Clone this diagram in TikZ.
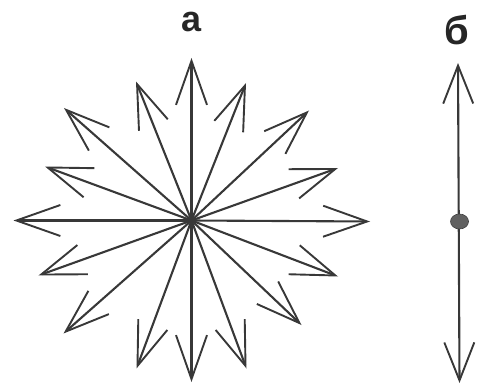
\documentclass[tikz,border=0pt]{standalone}
\usepackage{fontspec}
\setmainfont{Liberation Sans}
\usetikzlibrary{arrows.meta,shapes.geometric}
\begin{document}
\begin{tikzpicture}[x=1pt,y=-1pt,
  ray/.style={draw=black!78,line width=2.1pt,-{Straight Barb[length=44pt,width=31pt,line width=1.9pt]}},
  axis/.style={draw=black!78,line width=2.1pt,{Straight Barb[length=38pt,width=30pt,line width=1.9pt]}-{Straight Barb[length=38pt,width=30pt,line width=1.9pt]}},
  lbl/.style={font=\fontsize{36}{36}\selectfont\bfseries,text=black!85,inner sep=0pt}]
\useasboundingbox (0,0) rectangle (478,390);
\coordinate (c) at (191.5,220.5);
\coordinate (t1) at (191.5,58);
\coordinate (t2) at (246,83);
\coordinate (t3) at (309,110.5);
\coordinate (t4) at (338,168);
\coordinate (t5) at (370,221.5);
\coordinate (t6) at (338,276.5);
\coordinate (t7) at (301.5,325);
\coordinate (t8) at (246.5,368.5);
\coordinate (t9) at (191.5,382);
\coordinate (t10) at (136.5,368.5);
\coordinate (t11) at (63.5,333.5);
\coordinate (t12) at (38.5,275.5);
\coordinate (t13) at (13.5,220.5);
\coordinate (t14) at (45,166.5);
\coordinate (t15) at (64,108);
\coordinate (t16) at (136,81.5);
\foreach \i in {1,...,16} {\draw[ray] (c) -- (t\i);}
\node[lbl] (la) at (191.5,22) {а};
\coordinate (btop) at (458,63);
\coordinate (bbot) at (459.5,383);
\draw[axis] (btop) -- (bbot);
\node[ellipse,fill=black!62,minimum width=18pt,minimum height=15pt,inner sep=0pt,draw=black!75,line width=0.6pt] (dot) at (459.5,221.5) {};
\node[lbl,font=\fontsize{40}{40}\selectfont\bfseries] (lb) at (456.5,30) {б};
\end{tikzpicture}
\end{document}
